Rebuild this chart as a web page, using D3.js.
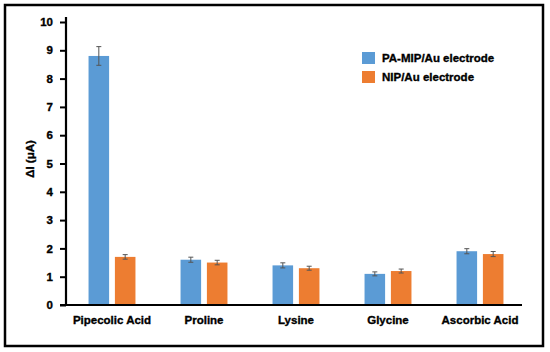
<!DOCTYPE html>
<html>
<head>
<meta charset="utf-8">
<script src="https://cdn.jsdelivr.net/npm/d3@7"></script>
<style>
  body { margin: 0; background: #fff; }
  svg text { font-family: "Liberation Sans", Arial, sans-serif; font-weight: bold; stroke: #000; stroke-width: 0.35px; }
</style>
</head>
<body>
<div class="chart"></div>
<script>
var categories = ['Pipecolic Acid', 'Proline', 'Lysine', 'Glycine', 'Ascorbic Acid'];
var seriesNames = ['PA-MIP/Au electrode', 'NIP/Au electrode'];
var mipValues = [8.8, 1.6, 1.4, 1.1, 1.9];
var mipErrors = [0.33, 0.09, 0.09, 0.07, 0.09];
var nipValues = [1.7, 1.5, 1.3, 1.2, 1.8];
var nipErrors = [0.08, 0.08, 0.07, 0.07, 0.09];
var yTicks = [0, 1, 2, 3, 4, 5, 6, 7, 8, 9, 10];
var colors = ['#5b9bd5', '#ed7d31'];

var w = 550, h = 352;
var svg = d3.select('.chart')
	.append('svg')
	.attr('width', w)
	.attr('height', h);

// frame
svg.append('rect')
	.attr('x', 5).attr('y', 5)
	.attr('width', 538).attr('height', 341)
	.attr('fill', 'none')
	.attr('stroke', '#000')
	.attr('stroke-width', 2.5);

var y = d3.scaleLinear().domain([0, 10]).range([305, 22]);
var x0 = d3.scaleBand().domain(categories).range([66, 526]).paddingInner(0.49).paddingOuter(0.245);
var x1 = d3.scaleBand().domain([0, 1]).range([0, x0.bandwidth()]).paddingInner(0.22);

var rows = categories.map(function(c, i){
	return [
		{cat: c, s: 0, v: mipValues[i], e: mipErrors[i]},
		{cat: c, s: 1, v: nipValues[i], e: nipErrors[i]}
	];
});
var flat = [].concat.apply([], rows);

svg.selectAll('rect.bar')
	.data(flat)
	.enter()
	.append('rect')
	.attr('class', 'bar')
	.attr('x', function(d){ return x0(d.cat) + x1(d.s); })
	.attr('y', function(d){ return y(d.v); })
	.attr('width', x1.bandwidth())
	.attr('height', function(d){ return y(0) - y(d.v); })
	.style('fill', function(d){ return colors[d.s]; });

// error bars
var err = svg.selectAll('g.err')
	.data(flat)
	.enter()
	.append('g')
	.attr('class', 'err')
	.attr('stroke', '#555')
	.attr('stroke-width', 1);
err.append('line')
	.attr('x1', function(d){ return x0(d.cat) + x1(d.s) + x1.bandwidth() / 2; })
	.attr('x2', function(d){ return x0(d.cat) + x1(d.s) + x1.bandwidth() / 2; })
	.attr('y1', function(d){ return y(d.v + d.e); })
	.attr('y2', function(d){ return y(d.v - d.e); });
[1, -1].forEach(function(sign){
	err.append('line')
		.attr('x1', function(d){ return x0(d.cat) + x1(d.s) + x1.bandwidth() / 2 - 2.5; })
		.attr('x2', function(d){ return x0(d.cat) + x1(d.s) + x1.bandwidth() / 2 + 2.5; })
		.attr('y1', function(d){ return y(d.v + sign * d.e); })
		.attr('y2', function(d){ return y(d.v + sign * d.e); });
});

// y axis
var yAxis = svg.append('g')
	.attr('transform', 'translate(66,0)')
	.call(d3.axisLeft(y).tickValues(yTicks).tickSize(6).tickPadding(7).tickSizeOuter(0));
yAxis.select('.domain').attr('stroke-width', 2.2).attr('d', 'M0,17V305');
yAxis.selectAll('.tick line').attr('stroke-width', 2);
yAxis.selectAll('.tick text').style('font-size', '11.5px').attr('fill', '#000');

// x axis
var xAxis = svg.append('g')
	.attr('transform', 'translate(0,305)')
	.call(d3.axisBottom(x0).tickSize(0).tickPadding(11).tickSizeOuter(0));
xAxis.select('.domain').attr('stroke-width', 2.2).attr('d', 'M60,0H522');
xAxis.selectAll('.tick text').style('font-size', '11.5px').attr('fill', '#000');

// y label
svg.append('text')
	.attr('transform', 'translate(34,159) rotate(-90)')
	.attr('text-anchor', 'middle')
	.style('font-size', '11.5px')
	.text('ΔI (μA)');

// legend
var legend = svg.selectAll('g.legend')
	.data(seriesNames)
	.enter()
	.append('g')
	.attr('class', 'legend')
	.attr('transform', function(d, i){ return 'translate(362,' + (52 + i * 19) + ')'; });
legend.append('rect')
	.attr('width', 13).attr('height', 12)
	.style('fill', function(d, i){ return colors[i]; });
legend.append('text')
	.attr('x', 20).attr('y', 10)
	.style('font-size', '11.5px')
	.text(function(d){ return d; });
</script>
</body>
</html>
